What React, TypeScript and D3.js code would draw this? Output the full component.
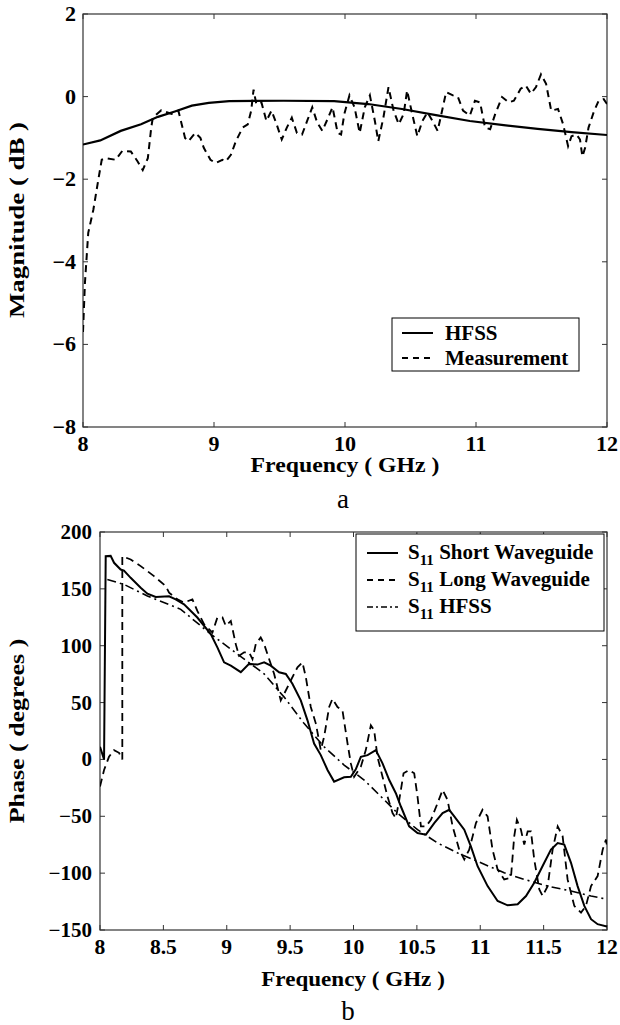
import React from "react";
import * as d3 from "d3";

// ---------- Panel a: magnitude ----------
const magTicksX = [8, 9, 10, 11, 12];
const magTicksY = [-8, -6, -4, -2, 0, 2];
const hfssMagFreq = [8.0, 8.132, 8.288, 8.443, 8.572, 8.701, 8.831, 8.96, 9.116, 9.53, 9.917, 10.176, 10.435, 10.694, 10.953, 11.211, 11.47, 11.729, 12.0];
const hfssMag = [-1.16, -1.06, -0.83, -0.67, -0.49, -0.36, -0.22, -0.15, -0.11, -0.1, -0.11, -0.18, -0.3, -0.45, -0.59, -0.69, -0.78, -0.86, -0.93];
const measFreq = [8.0, 8.015, 8.04, 8.079, 8.117, 8.143, 8.171, 8.249, 8.301, 8.365, 8.417, 8.456, 8.495, 8.521, 8.533, 8.598, 8.676, 8.728, 8.779, 8.805, 8.857, 8.896, 8.922, 8.973, 9.012, 9.064, 9.09, 9.129, 9.167, 9.219, 9.258, 9.284, 9.302, 9.323, 9.362, 9.4, 9.439, 9.478, 9.517, 9.556, 9.594, 9.633, 9.672, 9.711, 9.75, 9.788, 9.827, 9.866, 9.905, 9.944, 9.97, 9.995, 10.034, 10.073, 10.112, 10.151, 10.19, 10.228, 10.254, 10.293, 10.332, 10.371, 10.41, 10.448, 10.474, 10.513, 10.552, 10.591, 10.63, 10.668, 10.707, 10.733, 10.772, 10.824, 10.862, 10.901, 10.953, 10.992, 11.031, 11.069, 11.108, 11.147, 11.199, 11.25, 11.289, 11.341, 11.38, 11.419, 11.458, 11.496, 11.535, 11.574, 11.626, 11.665, 11.703, 11.729, 11.768, 11.794, 11.812, 11.833, 11.859, 11.898, 11.936, 11.975, 12.0];
const measMag = [-5.7, -4.5, -3.3, -2.74, -2.01, -1.53, -1.49, -1.53, -1.31, -1.33, -1.57, -1.78, -1.49, -0.75, -0.51, -0.33, -0.42, -0.34, -1.0, -1.08, -0.88, -1.0, -1.24, -1.53, -1.61, -1.53, -1.57, -1.41, -1.08, -0.75, -0.67, -0.34, 0.17, -0.18, -0.14, -0.59, -0.34, -0.67, -1.04, -0.75, -0.51, -0.88, -0.92, -0.59, -0.26, -0.63, -0.83, -0.55, -0.26, -0.88, -0.92, -0.42, 0.03, -0.26, -0.88, -0.26, 0.03, -0.59, -1.08, -0.51, 0.23, -0.34, -0.67, -0.42, 0.15, -0.42, -0.96, -0.59, -0.38, -0.59, -0.83, -0.46, 0.11, 0.03, -0.01, -0.34, -0.46, -0.1, -0.14, -0.75, -0.79, -0.42, -0.01, -0.14, -0.1, 0.19, 0.27, 0.07, 0.23, 0.54, 0.31, -0.34, -0.3, -0.67, -1.2, -0.96, -0.92, -1.04, -1.45, -1.24, -0.75, -0.38, -0.1, -0.06, -0.18];

// ---------- Panel b: phase ----------
const phTicksX = [8, 8.5, 9, 9.5, 10, 10.5, 11, 11.5, 12];
const phTicksY = [-150, -100, -50, 0, 50, 100, 150, 200];
const shortFreq = [8.0, 8.032, 8.045, 8.084, 8.111, 8.163, 8.189, 8.242, 8.321, 8.374, 8.439, 8.545, 8.597, 8.663, 8.768, 8.874, 8.926, 8.979, 9.032, 9.111, 9.176, 9.242, 9.295, 9.347, 9.413, 9.466, 9.518, 9.584, 9.637, 9.689, 9.742, 9.795, 9.847, 9.926, 9.979, 10.018, 10.058, 10.111, 10.176, 10.229, 10.282, 10.334, 10.374, 10.439, 10.505, 10.571, 10.637, 10.703, 10.755, 10.795, 10.874, 10.926, 10.979, 11.058, 11.137, 11.216, 11.295, 11.361, 11.426, 11.505, 11.558, 11.611, 11.663, 11.716, 11.768, 11.821, 11.874, 11.926, 12.0];
const shortPh = [11.1, 0, 178.7, 179, 172.9, 167, 166, 159.7, 151, 145.8, 142.8, 143.4, 140.8, 136.4, 124.8, 110.2, 98.5, 85.4, 82.5, 76.7, 84, 83.4, 85.4, 82.5, 76.7, 75.2, 66.5, 51.9, 34.4, 14, 3.8, -9.3, -19.5, -15.7, -15.2, -8.7, 2.3, 3.8, 8.2, -3.5, -18.1, -29.7, -41.4, -58.9, -64.7, -66.2, -56, -47.2, -44.3, -50.1, -61.8, -76.4, -93.9, -111.4, -124.5, -128.3, -127.4, -120.1, -108.4, -90.9, -79.3, -73.5, -74.9, -90.9, -111.4, -128.8, -140.5, -144.9, -146.9];
const longFreq = [8.0, 8.032, 8.071, 8.111, 8.15, 8.176, 8.176, 8.242, 8.321, 8.426, 8.518, 8.545, 8.611, 8.663, 8.729, 8.768, 8.821, 8.887, 8.926, 8.966, 8.992, 9.032, 9.071, 9.097, 9.137, 9.176, 9.203, 9.229, 9.268, 9.295, 9.334, 9.374, 9.4, 9.426, 9.466, 9.505, 9.558, 9.597, 9.624, 9.663, 9.703, 9.742, 9.768, 9.808, 9.834, 9.874, 9.913, 9.953, 9.979, 10.005, 10.058, 10.097, 10.137, 10.163, 10.189, 10.229, 10.268, 10.308, 10.334, 10.361, 10.395, 10.439, 10.479, 10.505, 10.532, 10.571, 10.611, 10.663, 10.703, 10.742, 10.782, 10.834, 10.874, 10.913, 10.966, 11.018, 11.058, 11.097, 11.137, 11.189, 11.242, 11.268, 11.289, 11.321, 11.347, 11.374, 11.4, 11.426, 11.466, 11.492, 11.532, 11.571, 11.611, 11.65, 11.689, 11.742, 11.795, 11.834, 11.874, 11.926, 11.966, 11.992, 12.0];
const longPh = [-23.9, -9.3, 2.3, 8.2, 5.8, 0, 178.7, 175.8, 170, 161.2, 152.5, 146.6, 140.8, 137.9, 140.8, 130.6, 118.9, 111.6, 124.8, 124.8, 117.5, 121.8, 101.4, 91.2, 94.2, 94.2, 88.3, 101.4, 107.3, 101.4, 88.3, 75.2, 63.5, 51.9, 60.6, 69.4, 81, 85.4, 72.3, 46.1, 31.5, 8.2, 19.8, 46.1, 53.3, 46.1, 43.1, 14, -3.5, -15.2, -6.4, 8.2, 30, 25.7, 2.3, -15.2, -32.6, -47.2, -51.6, -35.6, -12.2, -9.3, -12.2, -32.6, -58.9, -58.9, -53.1, -38.5, -26.8, -35.6, -58.9, -79.3, -88, -79.3, -56, -44.3, -50.1, -79.3, -96.8, -105.5, -104.1, -67.6, -53.1, -61.8, -74.9, -63.3, -63.3, -88, -114.3, -120.1, -111.4, -79.3, -58.9, -67.6, -105.5, -128.8, -134.7, -128.8, -111.4, -102.6, -79.3, -70.5, -76.4];
const hfssPhFreq = [8.058, 8.189, 8.374, 8.637, 8.874, 9.084, 9.295, 9.453, 9.611, 9.768, 9.926, 10.084, 10.216, 10.347, 10.505, 10.663, 10.821, 11.005, 11.189, 11.347, 11.532, 11.716, 11.874, 12.0];
const hfssPh = [158.3, 153.9, 143.7, 132, 110.2, 92.7, 75.2, 54.8, 31.5, 11.1, -5, -18.1, -32.6, -47.2, -61.8, -73.5, -82.2, -90.9, -99.7, -105.5, -111.4, -115.7, -120.1, -123];

const FONT = "'Liberation Serif', 'Times New Roman', serif";

type TP = { x: number; y: number; size: number; sx?: number; rot?: number; anchor?: string; bold?: boolean; children: React.ReactNode };
function T({ x, y, size, sx = 1, rot = 0, anchor = "middle", bold = true, children }: TP) {
  return (
    <text
      transform={`translate(${x},${y}) rotate(${rot}) scale(${sx},1)`}
      fontFamily={FONT}
      fontSize={size}
      fontWeight={bold ? "bold" : "normal"}
      textAnchor={anchor as any}
      fill="#000"
    >
      {children}
    </text>
  );
}

function zip(a: number[], b: number[]): [number, number][] {
  return a.map((v, i) => [v, b[i]]);
}

export default function App() {
  // panel a
  const ax = d3.scaleLinear().domain([8, 12]).range([83, 607]);
  const ay = d3.scaleLinear().domain([-8, 2]).range([427, 14]);
  const la = d3.line<[number, number]>().x((d) => ax(d[0])).y((d) => ay(d[1]));
  // panel b
  const bx = d3.scaleLinear().domain([8, 12]).range([100, 607]);
  const by = d3.scaleLinear().domain([-150, 200]).range([930, 532]);
  const lb = d3.line<[number, number]>().x((d) => bx(d[0])).y((d) => by(d[1]));

  const axisColor = "#333";
  const tl = 5;

  return (
    <svg width={620} height={1025} style={{ position: "absolute", left: 0, top: 0, background: "#fff" }}>
      <rect x={0} y={0} width={620} height={1025} fill="#fff" />
      <defs>
        <clipPath id="clipA">
          <rect x={83} y={14} width={524} height={413} />
        </clipPath>
        <clipPath id="clipB">
          <rect x={100} y={532} width={507} height={398} />
        </clipPath>
      </defs>
      {/* ===== Panel a ===== */}
      <g>
        <rect x={83} y={14} width={524} height={413} fill="none" stroke={axisColor} strokeWidth={1.2} />
        {magTicksX.map((t) => (
          <g key={"ax" + t}>
            <line x1={ax(t)} x2={ax(t)} y1={427} y2={427 - tl} stroke={axisColor} />
            <line x1={ax(t)} x2={ax(t)} y1={14} y2={14 + tl} stroke={axisColor} />
            <T x={ax(t)} y={451} size={21} sx={1.05}>{t}</T>
          </g>
        ))}
        {magTicksY.map((t) => (
          <g key={"ay" + t}>
            <line x1={83} x2={83 + tl} y1={ay(t)} y2={ay(t)} stroke={axisColor} />
            <line x1={607} x2={607 - tl} y1={ay(t)} y2={ay(t)} stroke={axisColor} />
            <T x={76} y={ay(t) + 7} size={21} sx={1.05} anchor="end">{t < 0 ? "\u2212" + Math.abs(t) : t}</T>
          </g>
        ))}
        <g clipPath="url(#clipA)">
          <path d={la(zip(hfssMagFreq, hfssMag)) || ""} fill="none" stroke="#000" strokeWidth={2.2} />
          <path d={la(zip(measFreq, measMag)) || ""} fill="none" stroke="#000" strokeWidth={2} strokeDasharray="7,5" />
        </g>
        <T x={345} y={472} size={22} sx={1.08}>Frequency ( GHz )</T>
        <T x={24} y={220} size={22} sx={1.22} rot={-90}>Magnitude ( dB )</T>
        <T x={343} y={508} size={27} bold={false}>a</T>
        {/* legend a */}
        <rect x={392} y={318} width={187} height={53} fill="#fff" stroke="#000" strokeWidth={1} />
        <line x1={402} x2={433} y1={333} y2={333} stroke="#000" strokeWidth={2} />
        <line x1={402} x2={433} y1={358} y2={358} stroke="#000" strokeWidth={2} strokeDasharray="6,5" />
        <T x={445} y={340} size={21} anchor="start">HFSS</T>
        <T x={445} y={365} size={21} anchor="start">Measurement</T>
      </g>

      {/* ===== Panel b ===== */}
      <g>
        <rect x={100} y={532} width={507} height={398} fill="none" stroke={axisColor} strokeWidth={1.2} />
        {phTicksX.map((t) => (
          <g key={"bx" + t}>
            <line x1={bx(t)} x2={bx(t)} y1={930} y2={930 - tl} stroke={axisColor} />
            <line x1={bx(t)} x2={bx(t)} y1={532} y2={532 + tl} stroke={axisColor} />
            <T x={bx(t)} y={954} size={20} sx={1.08}>{t}</T>
          </g>
        ))}
        {phTicksY.map((t) => (
          <g key={"by" + t}>
            <line x1={100} x2={100 + tl} y1={by(t)} y2={by(t)} stroke={axisColor} />
            <line x1={607} x2={607 - tl} y1={by(t)} y2={by(t)} stroke={axisColor} />
            <T x={92} y={by(t) + 7} size={20} sx={1.05} anchor="end">{t < 0 ? "\u2212" + Math.abs(t) : t}</T>
          </g>
        ))}
        <g clipPath="url(#clipB)">
          <path d={lb(zip(hfssPhFreq, hfssPh)) || ""} fill="none" stroke="#000" strokeWidth={1.6} strokeDasharray="9,4,2,4" />
          <path d={lb(zip(longFreq, longPh)) || ""} fill="none" stroke="#000" strokeWidth={1.8} strokeDasharray="8,5" />
          <path d={lb(zip(shortFreq, shortPh)) || ""} fill="none" stroke="#000" strokeWidth={2} />
        </g>
        <T x={353} y={986} size={22} sx={1.05}>Frequency ( GHz )</T>
        <T x={24} y={731} size={22} sx={1.18} rot={-90}>Phase ( degrees )</T>
        <T x={348} y={1020} size={27} bold={false}>b</T>
        {/* legend b */}
        <rect x={356} y={534} width={248} height={97} fill="#fff" stroke="#000" strokeWidth={1} />
        <line x1={367} x2={398} y1={553} y2={553} stroke="#000" strokeWidth={2} />
        <line x1={367} x2={398} y1={580} y2={580} stroke="#000" strokeWidth={1.8} strokeDasharray="6,5" />
        <line x1={367} x2={398} y1={607} y2={607} stroke="#000" strokeWidth={1.6} strokeDasharray="6,3,2,3" />
        {[
          { y: 559, label: "Short Waveguide" },
          { y: 586, label: "Long Waveguide" },
          { y: 613, label: "HFSS" },
        ].map((e) => (
          <text key={e.label} transform={`translate(408,${e.y})`} fontFamily={FONT} fontWeight="bold" fontSize={21}>
            S
            <tspan fontSize={15} dy={6}>11</tspan>
            <tspan dy={-6}> {e.label}</tspan>
          </text>
        ))}
      </g>
    </svg>
  );
}
